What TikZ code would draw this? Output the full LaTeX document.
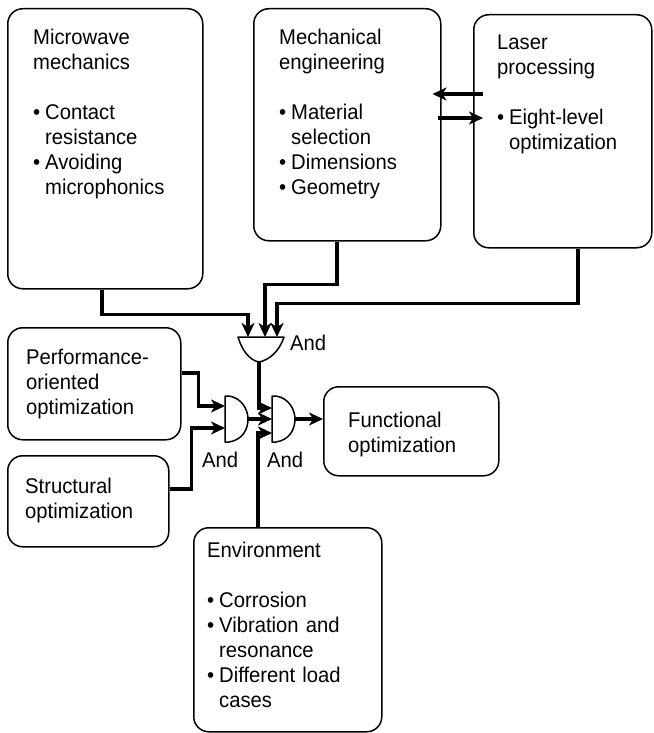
\documentclass[tikz,border=0pt]{standalone}
\usepackage{fontspec}
\setmainfont[FakeStretch=0.95]{Liberation Sans}
\usetikzlibrary{arrows.meta}
\newcommand\mybul{\makebox[12pt][l]{•}}
\newcommand\myind{\hspace*{12pt}}
\newcommand\fs{\fontsize{21.3}{25}\selectfont}
\begin{document}
\begin{tikzpicture}[x=1pt,y=-1pt,
  box/.style={draw, line width=1.5pt, rounded corners=15pt, anchor=north west, inner sep=0pt},
  txt/.style={anchor=base west, inner sep=0pt, align=left, text width=170pt, font=\fs},
  conn/.style={line width=3.8pt, line join=miter, -{Stealth[length=14pt,width=13pt,inset=4pt]}},
  gate/.style={draw, line width=1.5pt, fill=white, line join=round},
  lbl/.style={anchor=base west, inner sep=0pt, font=\fs}]
\useasboundingbox (0,0) rectangle (653,733);
% boxes
\node[box, minimum width=195pt, minimum height=280pt] (mw) at (7,8) {};
\node[box, minimum width=187pt, minimum height=232pt] (me) at (253,8) {};
\node[box, minimum width=178pt, minimum height=233pt] (lp) at (473,14) {};
\node[box, minimum width=173pt, minimum height=112pt] (po) at (7,327) {};
\node[box, minimum width=161pt, minimum height=91pt] (so) at (7,455) {};
\node[box, minimum width=175pt, minimum height=89pt] (fo) at (323,386) {};
\node[box, minimum width=188pt, minimum height=204pt] (en) at (193,527) {};
% texts
\node[txt] (mwt) at (33,45) {Microwave\\mechanics\\[25pt]\mybul Contact\\\myind resistance\\\mybul Avoiding\\\myind microphonics};
\node[txt] (met) at (279,45) {Mechanical\\engineering\\[25pt]\mybul Material\\\myind selection\\\mybul Dimensions\\\mybul Geometry};
\node[txt] (lpt) at (497,50) {Laser\\processing\\[25pt]\mybul Eight-level\\\myind optimization};
\node[txt] (pot) at (26,364) {Performance-\\oriented\\optimization};
\node[txt] (sot) at (25,493) {Structural\\optimization};
\node[txt] (fot) at (348,427) {Functional\\optimization};
\node[txt] (ent) at (207,557) {Environment\\[25pt]\mybul Corrosion\\\mybul Vibration and\\\myind resonance\\\mybul Different load\\\myind cases};
% gate ports
\coordinate (g0in1) at (248,337);
\coordinate (g0in2) at (265,337);
\coordinate (g0in3) at (277,337);
\coordinate (g0out) at (259,361);
\coordinate (g1in1) at (225,406);
\coordinate (g1in2) at (225,428);
\coordinate (g1out) at (248,419);
\coordinate (g2in1) at (272,408);
\coordinate (g2in2) at (272,419);
\coordinate (g2in3) at (272,433);
\coordinate (g2out) at (295,419);
% connectors
\draw[conn] ([xshift=-3pt]mw.south) -- ++(0,25) -| (g0in1);
\draw[conn] ([xshift=-10pt]me.south) -- ++(0,43) -| (g0in2);
\draw[conn] ([xshift=15pt]lp.south) -- ++(0,55) -| (g0in3);
\draw[conn, shorten <=-10pt, shorten >=-9pt] (lp.west |- 0,94) -- (me.east |- 0,94);
\draw[conn, shorten <=-4pt, shorten >=-10pt] (me.east |- 0,118) -- (lp.west |- 0,118);
\draw[conn] (g0out) |- (g2in1);
\draw[conn] ([yshift=11pt]po.east) -- ++(17,0) |- (g1in1);
\draw[conn] ([yshift=12.5pt]so.east) -- ++(22,0) |- (g1in2);
\draw[conn] (g1out) -- (g2in2);
\draw[conn] ([xshift=-30pt]en.north) |- (g2in3);
\draw[conn] (g2out) -- (fo.west |- g2out);
% gates
\draw[gate] (238,337) -- (284,337) .. controls (279,352) and (269,360) .. (259,362) .. controls (249,360) and (242,350) .. (238,337) -- cycle;
\draw[gate] (225,396) -- (229,396) .. controls (242,398) and (248,410) .. (248,419) .. controls (248,430) and (242,440) .. (229,442) -- (225,442) -- cycle;
\draw[gate] (272,396) -- (276,396) .. controls (289,398) and (295,410) .. (295,419) .. controls (295,430) and (289,440) .. (276,442) -- (272,442) -- cycle;
% labels
\node[lbl] (and0) at (290,350) {And};
\node[lbl] (and1) at (202,467) {And};
\node[lbl] (and2) at (267,467) {And};
\end{tikzpicture}
\end{document}
